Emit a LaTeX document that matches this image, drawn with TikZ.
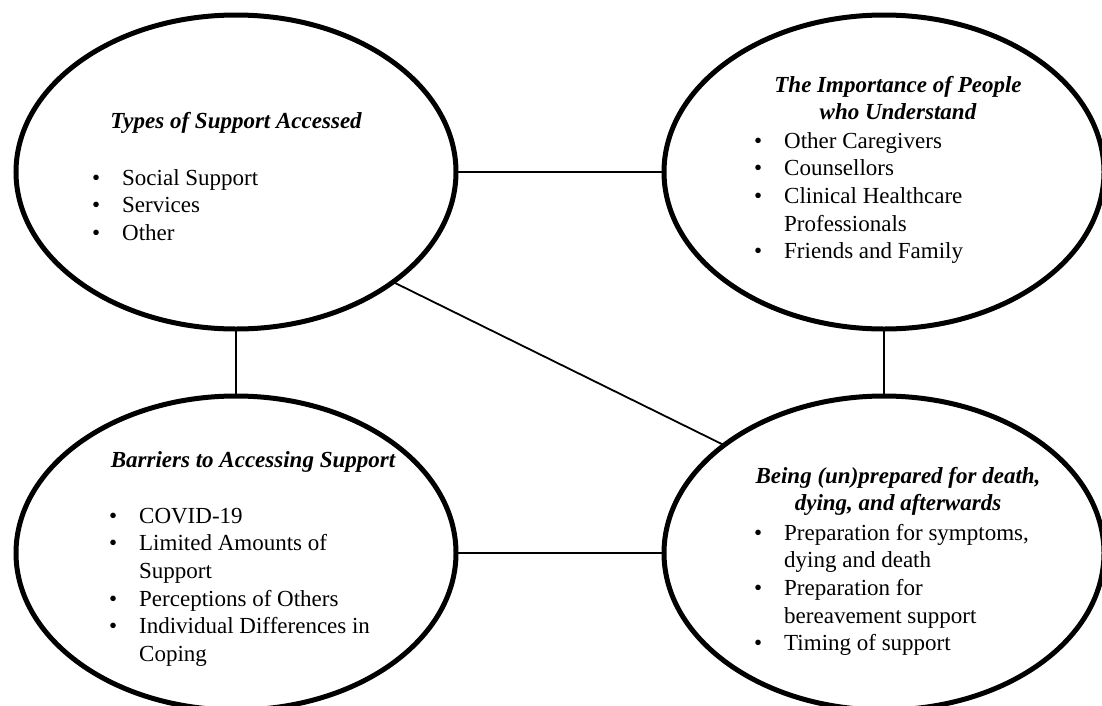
\documentclass[tikz,border=0pt]{standalone}
\usepackage{fontspec}
\setmainfont{Liberation Serif}
\usetikzlibrary{shapes.geometric}

\begin{document}
\begin{tikzpicture}[x=1pt, y=-1pt,
	theme/.style={draw, ellipse, line width=5pt, minimum width=440pt, minimum height=314pt, inner sep=0pt, outer sep=0pt},
	title/.style={anchor=base, inner sep=0pt, font=\fontsize{23}{27.7}\selectfont\bfseries\itshape},
	items/.style={anchor=base west, inner sep=0pt, font=\fontsize{23}{27.7}\selectfont},
	link/.style={line width=1.8pt}]
	\useasboundingbox (0, 0) rectangle (1102, 705);
	\node[theme] (0) at (236, 172) {};
	\node[theme] (1) at (884, 172) {};
	\node[theme] (2) at (236, 553) {};
	\node[theme] (3) at (884, 553) {};
	\node[title] (4) at (236, 128) {Types of Support Accessed};
	\node[items] (5) at (92, 185) {\begin{tabular}[t]{@{}p{30pt}@{}l@{}}
		\textbullet & Social Support\\
		\textbullet & Services\\
		\textbullet & Other
	\end{tabular}};
	\node[title] (6) at (898, 92) {\begin{tabular}[t]{@{}c@{}}
		The Importance of People\\
		who Understand
	\end{tabular}};
	\node[items] (7) at (754, 148) {\begin{tabular}[t]{@{}p{30pt}@{}l@{}}
		\textbullet & Other Caregivers\\
		\textbullet & Counsellors\\
		\textbullet & Clinical Healthcare\\
		& Professionals\\
		\textbullet & Friends and Family
	\end{tabular}};
	\node[title] (8) at (253, 467) {Barriers to Accessing Support};
	\node[items] (9) at (109, 523) {\begin{tabular}[t]{@{}p{30pt}@{}l@{}}
		\textbullet & COVID-19\\
		\textbullet & Limited Amounts of\\
		& Support\\
		\textbullet & Perceptions of Others\\
		\textbullet & Individual Differences in\\
		& Coping
	\end{tabular}};
	\node[title] (10) at (898, 483) {\begin{tabular}[t]{@{}c@{}}
		Being (un)prepared for death,\\
		dying, and afterwards
	\end{tabular}};
	\node[items] (11) at (754, 540) {\begin{tabular}[t]{@{}p{30pt}@{}l@{}}
		\textbullet & Preparation for symptoms,\\
		& dying and death\\
		\textbullet & Preparation for\\
		& bereavement support\\
		\textbullet & Timing of support
	\end{tabular}};
	\draw[link] (0) to (1);
	\draw[link] (0) to (2);
	\draw[link] (1) to (3);
	\draw[link] (2) to (3);
	\draw[link] (0.-35) to (3.146);
\end{tikzpicture}
\end{document}
